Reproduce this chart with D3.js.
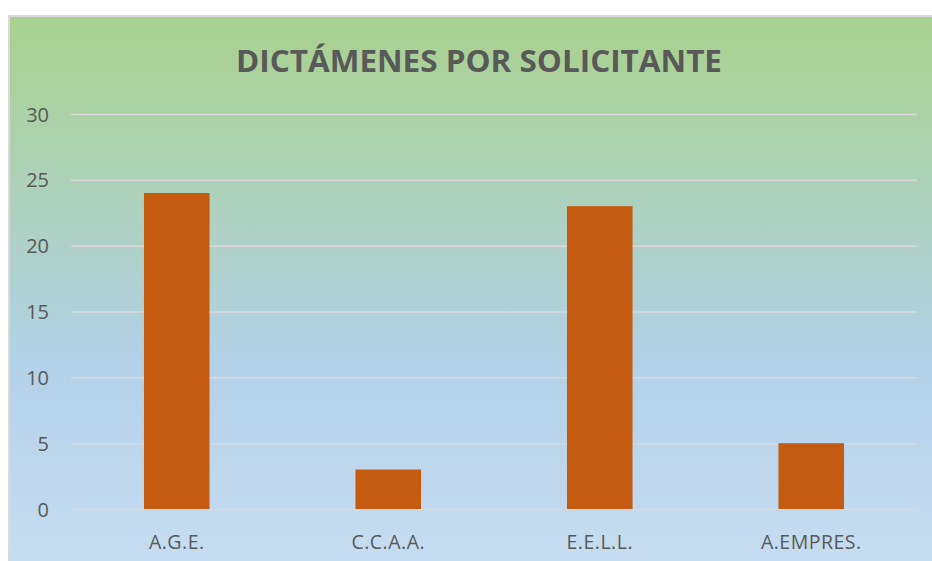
<!DOCTYPE html>
<html>
<head>
<meta charset="utf-8">
<script src="https://cdn.jsdelivr.net/npm/d3@7"></script>
<style>
  body { margin: 0; background: #fff; }
</style>
</head>
<body>
<div id="chart"></div>
<script>
// data
const categories = ["A.G.E.", "C.C.A.A.", "E.E.L.L.", "A.EMPRES."];
const counts = [24, 3, 23, 5];
const yTicks = [0, 5, 10, 15, 20, 25, 30];
const title = "DICTÁMENES POR SOLICITANTE";

const width = 932, height = 561;
const plot = {left: 71, right: 917, top: 114, bottom: 509};

let svg = d3.select("#chart")
    .append("svg")
    .attr("width", width)
    .attr("height", height);

// background gradient, green on top fading to light blue
let defs = svg.append("defs");
let grad = defs.append("linearGradient")
    .attr("id", "bg")
    .attr("x1", 0).attr("y1", 0)
    .attr("x2", 0).attr("y2", 1);
grad.append("stop").attr("offset", "0%").attr("stop-color", "#a9d18e");
grad.append("stop").attr("offset", "62%").attr("stop-color", "#b3d1e8");
grad.append("stop").attr("offset", "100%").attr("stop-color", "#c8ddf1");

svg.append("rect")
    .attr("x", 9).attr("y", 16)
    .attr("width", 940).attr("height", 560)
    .attr("fill", "url(#bg)")
    .attr("stroke", "#d9d9d9")
    .attr("stroke-width", 2);

let x = d3.scaleBand()
    .domain(categories)
    .range([plot.left, plot.right])
    .paddingInner(0.69)
    .paddingOuter(0.345);

let y = d3.scaleLinear()
    .domain([0, 30])
    .range([plot.bottom, plot.top]);

// gridlines + tick labels
let yAxis = svg.append("g")
    .attr("transform", `translate(${plot.left},0)`)
    .call(d3.axisLeft(y).tickValues(yTicks)
        .tickSize(-(plot.right - plot.left)).tickPadding(22));
yAxis.select(".domain").remove();
yAxis.selectAll(".tick line")
    .attr("stroke", "#d9d9d9")
    .attr("stroke-width", 1.5);
yAxis.selectAll(".tick text")
    .attr("fill", "#595959")
    .style("font-family", "Open Sans, sans-serif")
    .style("font-size", "20px")
    .attr("dy", "0.35em");

// bars
svg.append("g").selectAll("rect")
    .data(categories)
    .enter()
    .append("rect")
    .attr("x", d => x(d))
    .attr("y", (d, i) => y(counts[i]))
    .attr("width", x.bandwidth())
    .attr("height", (d, i) => y(0) - y(counts[i]))
    .attr("fill", "#c55a11");

// category labels
let xAxis = svg.append("g")
    .attr("transform", `translate(0,${plot.bottom})`)
    .call(d3.axisBottom(x).tickSize(0).tickPadding(26));
xAxis.select(".domain").remove();
xAxis.selectAll(".tick text")
    .attr("fill", "#595959")
    .style("font-family", "Open Sans, sans-serif")
    .style("font-size", "19.5px")
    .style("letter-spacing", "0.5px");

// title
svg.append("text")
    .attr("x", 479)
    .attr("y", 72)
    .attr("text-anchor", "middle")
    .attr("fill", "#595959")
    .style("font-family", "Open Sans, sans-serif")
    .style("font-weight", "bold")
    .style("font-size", "31px")
    .attr("textLength", 486)
    .attr("lengthAdjust", "spacingAndGlyphs")
    .text(title);
</script>
</body>
</html>
